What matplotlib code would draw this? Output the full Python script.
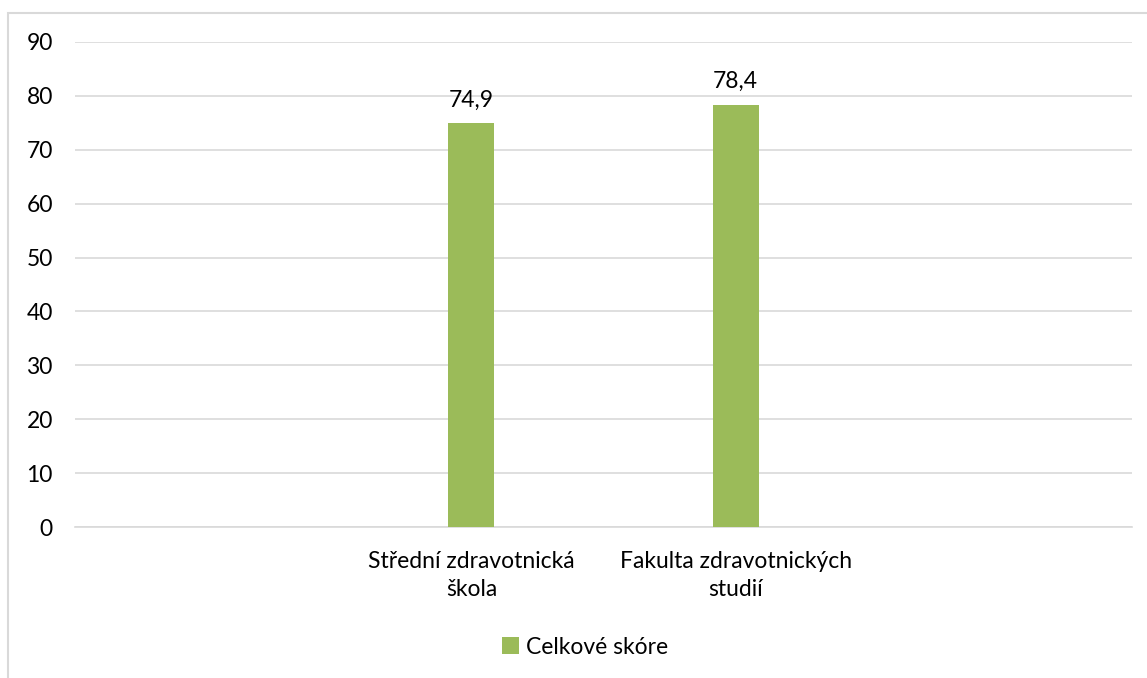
import numpy as np
import matplotlib.pyplot as plt
from matplotlib.patches import Rectangle

plt.rcParams['font.family'] = ['Lato', 'DejaVu Sans']

# kategorie (krajní pozice jsou prázdné)
kategorie = ['', 'Střední zdravotnická\nškola', 'Fakulta zdravotnických\nstudií', '']
skore = [np.nan, 74.9, 78.4, np.nan]
nazev_rady = 'Celkové skóre'

zelena = '#9bbb59'
seda = '#d9d9d9'
vel = 16.5

fig = plt.figure(figsize=(11.47, 6.78), dpi=100)
ax = fig.add_axes([75/1147, 151/678, 1057/1147, (527-42)/678])

x = np.arange(len(kategorie))
bars = ax.bar(x, skore, width=0.174, color=zelena, label=nazev_rady, zorder=3)

for xi, v in zip(x, skore):
    if not np.isnan(v):
        ax.annotate(f'{v:.1f}'.replace('.', ','), (xi, v), xytext=(0, 9),
                    textcoords='offset points', ha='center', va='bottom', fontsize=vel)

ax.set_xlim(-0.5, len(kategorie) - 0.5)
ax.set_ylim(0, 90)
ax.set_yticks(np.arange(0, 91, 10))
ax.set_xticks(x)
ax.set_xticklabels(kategorie, fontsize=vel, linespacing=1.45)
ax.tick_params(axis='y', length=0, pad=16, labelsize=vel)
ax.tick_params(axis='x', length=0, pad=17)
ax.grid(axis='y', color=seda, linewidth=1.2, zorder=0)
for s in ['top', 'right', 'left']:
    ax.spines[s].set_visible(False)
ax.spines['bottom'].set_color(seda)
ax.spines['bottom'].set_linewidth(1.2)

leg = fig.legend(handles=[bars], labels=[nazev_rady], loc='center',
                 bbox_to_anchor=(585/1147, 1 - 647/678), frameon=False,
                 fontsize=vel, handlelength=0.75, handleheight=0.75, handletextpad=0.3)

# rámeček grafu
fig.patches.append(Rectangle((8/1147, -0.1), 1.2, 1 - 13/678 + 0.1,
                             transform=fig.transFigure, fill=False,
                             edgecolor=seda, linewidth=1.5))

fig.savefig('out.png', dpi=100)
